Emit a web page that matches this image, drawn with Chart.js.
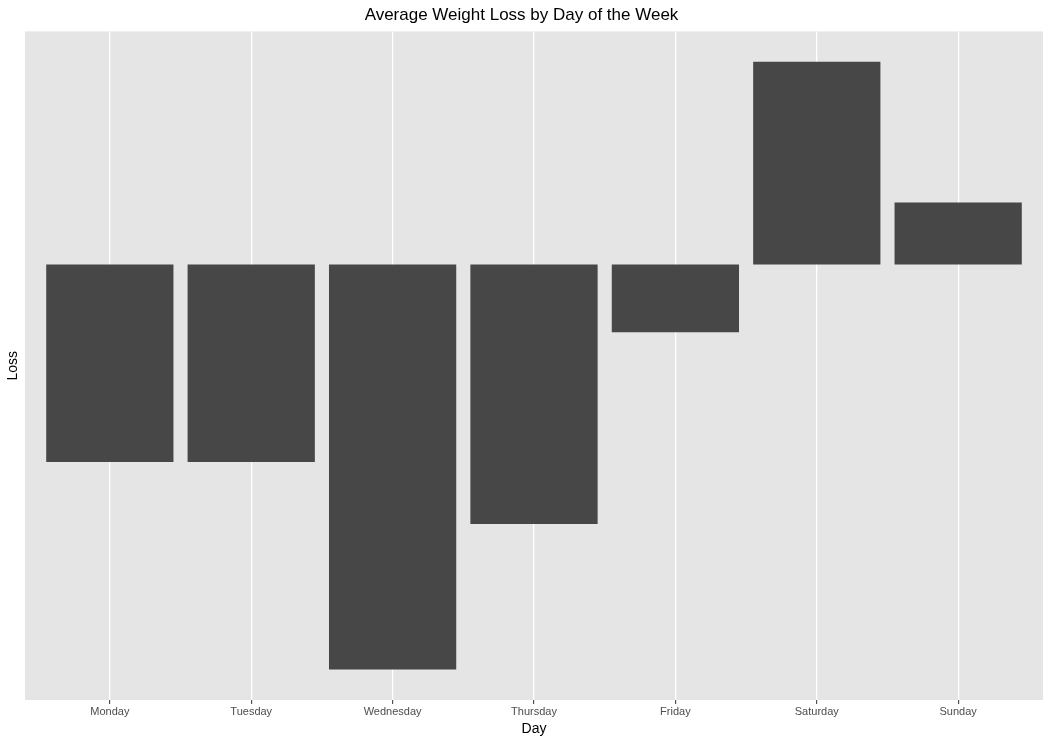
<!DOCTYPE html>
<html>
<head>
<meta charset="utf-8">
<script src="https://cdn.jsdelivr.net/npm/chart.js@4.4.1/dist/chart.umd.min.js"></script>
<style>
  html, body { margin: 0; padding: 0; background: #fff; }
  #wrap { width: 1050px; height: 742px; }
</style>
</head>
<body>
<div id="wrap"><canvas id="myChart" width="1050" height="742"></canvas></div>
<script>
// Data (no y scale is shown, so units are relative)
const days = ['Monday', 'Tuesday', 'Wednesday', 'Thursday', 'Friday', 'Saturday', 'Sunday'];
const loss = [-1.98, -1.98, -4.06, -2.60, -0.68, 2.03, 0.62];

// ggplot-like panel background
const panelBg = {
  id: 'panelBg',
  beforeDraw(chart) {
    const { ctx, chartArea: a } = chart;
    ctx.save();
    ctx.fillStyle = '#e5e5e5';
    ctx.fillRect(a.left, a.top, a.right - a.left, a.bottom - a.top);
    ctx.restore();
  }
};

const lo = Math.min(...loss), hi = Math.max(...loss);
const pad = (hi - lo) * 0.05;

Chart.defaults.font.family = '"Liberation Sans", Arial, Helvetica, sans-serif';

const ctx = document.getElementById('myChart').getContext('2d');
const myChart = new Chart(ctx, {
  type: 'bar',
  data: {
    datasets: [{
      label: 'Loss',
      data: days.map((d, i) => ({ x: i + 1, y: loss[i] })),
      backgroundColor: '#474747',
      borderColor: '#474747',
      borderWidth: 0,
      barPercentage: 0.9,
      categoryPercentage: 1.0
    }]
  },
  options: {
    responsive: false,
    animation: false,
    layout: { padding: { left: 0, right: 7, top: 0, bottom: 0 } },
    plugins: {
      legend: { display: false },
      tooltip: { enabled: false },
      title: {
        display: true,
        text: 'Average Weight Loss by Day of the Week',
        color: '#000',
        font: { size: 17, weight: 'normal' },
        padding: { top: 5, bottom: 6 }
      }
    },
    scales: {
      x: {
        type: 'linear',
        min: 0.4,
        max: 7.6,
        offset: false,
        afterBuildTicks: scale => { scale.ticks = days.map((d, i) => ({ value: i + 1 })); },
        afterFit: scale => { scale.height = 42; },
        ticks: {
          callback: (v) => days[v - 1],
          color: '#4d4d4d',
          font: { size: 11 },
          padding: 1,
          maxRotation: 0,
          autoSkip: false
        },
        grid: {
          offset: false,
          color: '#ffffff',
          lineWidth: 1.3,
          drawTicks: true,
          tickLength: 4,
          tickColor: '#333333',
          tickWidth: 1
        },
        border: { display: false },
        title: {
          display: true,
          text: 'Day',
          color: '#000',
          font: { size: 14 },
          padding: { top: 0, bottom: 4 }
        }
      },
      y: {
        min: lo - pad,
        max: hi + pad,
        afterFit: scale => { scale.width = 25; },
        ticks: { display: false },
        grid: { display: false },
        border: { display: false },
        title: {
          display: true,
          text: 'Loss',
          color: '#000',
          font: { size: 14 },
          padding: { top: 5, bottom: 0 }
        }
      }
    }
  },
  plugins: [panelBg]
});
</script>
</body>
</html>
